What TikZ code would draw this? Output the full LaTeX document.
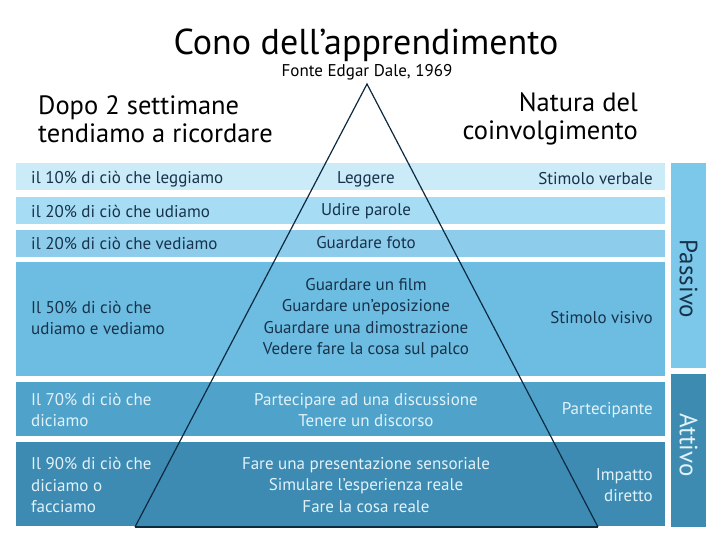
\documentclass[tikz,border=0pt]{standalone}
\usepackage{fontspec}
\setmainfont{PT Sans}
\definecolor{bandA}{HTML}{CBEBF9}
\definecolor{bandB}{HTML}{A7DDF4}
\definecolor{bandC}{HTML}{8DCDEB}
\definecolor{bandD}{HTML}{6CBDE1}
\definecolor{bandE}{HTML}{4FA2CA}
\definecolor{bandF}{HTML}{3D8BB2}
\definecolor{passbar}{HTML}{7CC8EA}
\definecolor{attbar}{HTML}{3E8BB1}
\definecolor{ink}{HTML}{17324A}
\definecolor{pale}{HTML}{E2F2F9}
\definecolor{cone}{HTML}{0C2A40}
\tikzset{
  txt/.style={inner sep=0pt,font=\fontsize{17}{21.5}\selectfont,text=ink},
  left/.style={txt,anchor=west,align=left},
  mid/.style={txt,align=center},
  right/.style={txt,anchor=east,align=right},
  head/.style={inner sep=0pt,font=\fontsize{26.5}{28}\selectfont,text=black},
  side/.style={rotate=-90,inner sep=0pt,font=\fontsize{25}{25}\selectfont}
}
\begin{document}
\begin{tikzpicture}[x=1pt,y=-1pt]
  \useasboundingbox (0,0) rectangle (720,540);
  % bands
  \foreach \ya/\yb/\col in {163/190/bandA,197/224/bandB,230/257/bandC,
                            262/376/bandD,382/436/bandE,442/526/bandF}
    \fill[\col] (16,\ya) rectangle (665,\yb);
  \fill[passbar] (671,163) rectangle (706,368);
  \fill[attbar] (671,374) rectangle (706,527);
  \node[side,text=ink] (passivo) at (688.5,279) {Passivo};
  \node[side,text=pale] (attivo) at (688.5,445) {Attivo};
  % titles
  \node[inner sep=0pt,font=\fontsize{36}{36}\selectfont] (title) at (366,45) {Cono dell’apprendimento};
  \node[inner sep=0pt,font=\fontsize{17}{17}\selectfont] (fonte) at (367,72) {Fonte Edgar Dale, 1969};
  \node[head,anchor=west,align=left] (dopo) at (38,119) {Dopo 2 settimane\\tendiamo a ricordare};
  \node[head,anchor=east,align=right] (natura) at (638,119) {Natura del\\coinvolgimento};
  % left column
  \node[left] (p10) at (31,179) {il 10\% di ciò che leggiamo};
  \node[left] (p20a) at (31,211) {il 20\% di ciò che udiamo};
  \node[left] (p20b) at (31,243) {il 20\% di ciò che vediamo};
  \node[left] (p50) at (31,318) {Il 50\% di ciò che\\udiamo e vediamo};
  \node[left,text=pale] (p70) at (31,410) {Il 70\% di ciò che\\diciamo};
  \node[left,text=pale] (p90) at (31,485) {Il 90\% di ciò che\\diciamo o\\facciamo};
  % middle column
  \node[mid] (leggere) at (366,179) {Leggere};
  \node[mid] (udire) at (366,211) {Udire parole};
  \node[mid] (foto) at (366,243) {Guardare foto};
  \node[mid] (visivo) at (366,318) {Guardare un film\\Guardare un’eposizione\\Guardare una dimostrazione\\Vedere fare la cosa sul palco};
  \node[mid,text=pale] (discuss) at (366,410) {Partecipare ad una discussione\\Tenere un discorso};
  \node[mid,text=pale] (reale) at (366,485) {Fare una presentazione sensoriale\\Simulare l’esperienza reale\\Fare la cosa reale};
  % right column
  \node[right] (verbale) at (653,179) {Stimolo verbale};
  \node[right] (svisivo) at (653,318) {Stimolo visivo};
  \node[right,text=pale] (partec) at (653,410) {Partecipante};
  \node[right,text=pale] (impatto) at (653,485) {Impatto\\diretto};
  % cone
  \coordinate (apex) at (367,84);
  \coordinate (bl) at (135,527);
  \coordinate (br) at (598,527);
  \draw[cone,line width=1.2pt] (bl) -- (apex) -- (br);
  \draw[cone,line width=2pt] (bl) -- (br);
\end{tikzpicture}
\end{document}
